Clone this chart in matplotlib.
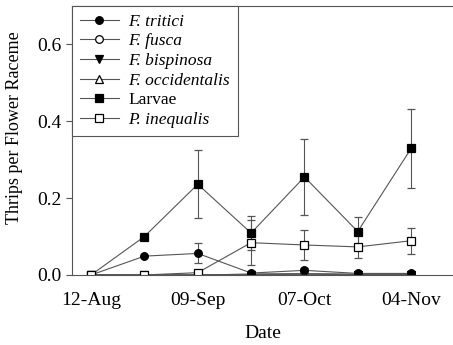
import matplotlib
matplotlib.use("Agg")
import matplotlib.pyplot as plt
import matplotlib.dates as mdates
import numpy as np

plt.rcParams['font.family'] = ['Liberation Serif', 'DejaVu Serif']

# sampling dates (every two weeks)
dates = np.array(['2009-08-12', '2009-08-26', '2009-09-09', '2009-09-23',
                  '2009-10-07', '2009-10-21', '2009-11-04'], dtype='datetime64[D]')

# mean thrips per raceme and standard errors
tritici = [0.0, 0.049, 0.056, 0.005, 0.012, 0.004, 0.004]
tritici_se = [0.0, 0.003, 0.026, 0.004, 0.006, 0.003, 0.003]
fusca = [0.0, 0.0, 0.0, 0.002, 0.003, 0.001, 0.001]
bispinosa = [0.0, 0.0, 0.0, 0.001, 0.002, 0.001, 0.001]
occidentalis = [0.0, 0.0, 0.0, 0.002, 0.003, 0.002, 0.002]
larvae = [0.0, 0.100, 0.236, 0.109, 0.255, 0.113, 0.329]
larvae_se = [0.0, 0.0, 0.089, 0.045, 0.098, 0.038, 0.102]
inequalis = [0.0, 0.0, 0.006, 0.084, 0.078, 0.073, 0.089]
inequalis_se = [0.0, 0.0, 0.006, 0.058, 0.038, 0.030, 0.034]

xticks = np.array(['2009-08-12', '2009-09-09', '2009-10-07', '2009-11-04'], dtype='datetime64[D]')

fig = plt.figure(figsize=(4.53, 3.45), dpi=100)
ax = fig.add_axes([0.159, 0.203, 0.841, 0.780])

lc = '#555555'
mk = dict(color=lc, lw=0.8, ms=5.5, mec='black', mew=0.9)
eb = dict(capsize=3, ecolor=lc, elinewidth=0.8, capthick=0.8)

h1 = ax.errorbar(dates, tritici, yerr=tritici_se, marker='o', mfc='black', **mk, **eb)
h2, = ax.plot(dates, fusca, marker='o', mfc='white', **mk)
h3, = ax.plot(dates, bispinosa, marker='v', mfc='black', **mk)
h4, = ax.plot(dates, occidentalis, marker='^', mfc='white', **mk)
h5 = ax.errorbar(dates, larvae, yerr=larvae_se, marker='s', mfc='black', **mk, **eb)
h6 = ax.errorbar(dates, inequalis, yerr=inequalis_se, marker='s', mfc='white', **mk, **eb)

ax.set_xlim(np.datetime64('2009-08-07'), np.datetime64('2009-11-15'))
ax.set_ylim(0, 0.7)
ax.set_yticks([0.0, 0.2, 0.4, 0.6])
ax.set_xticks(xticks)
ax.xaxis.set_major_formatter(mdates.DateFormatter('%d-%b'))
ax.tick_params(axis='x', length=0, pad=12, labelsize=14)
ax.tick_params(axis='y', length=4, width=0.8, color=lc, labelsize=14, direction='out')

for side in ['left', 'bottom', 'top']:
    ax.spines[side].set_color(lc)
    ax.spines[side].set_linewidth(0.8)
ax.spines['right'].set_visible(False)

ax.set_xlabel('Date', fontsize=14, labelpad=12)
ax.set_ylabel('Thrips per Flower Raceme', fontsize=13)
ax.yaxis.set_label_coords(-0.128, 0.546)

handles = [h1[0], h2, h3, h4, h5[0], h6[0]]
labels = ['F. tritici', 'F. fusca', 'F. bispinosa', 'F. occidentalis', 'Larvae', 'P. inequalis']
leg = ax.legend(handles, labels, loc='upper left', borderaxespad=0, fancybox=False,
                fontsize=12.5, handlelength=2.25, handletextpad=0.55, labelspacing=0.2,
                borderpad=0.45, edgecolor=lc, framealpha=1)
leg.get_frame().set_linewidth(0.8)
for txt in leg.get_texts():
    if txt.get_text() != 'Larvae':
        txt.set_fontstyle('italic')

fig.savefig('out.png', dpi=100)
